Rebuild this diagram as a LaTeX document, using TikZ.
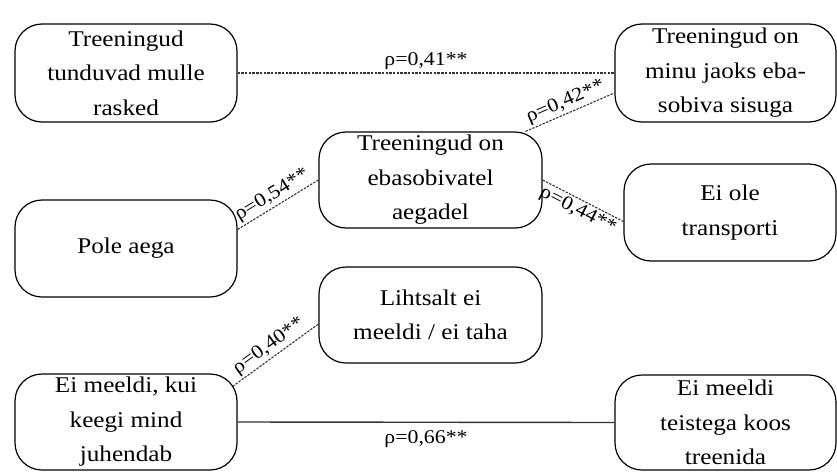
\documentclass[tikz,border=0pt]{standalone}
\usepackage{fontspec}
\setmainfont[FakeStretch=1.12]{Liberation Serif}
\usetikzlibrary{calc}
\begin{document}
\begin{tikzpicture}[x=1pt,y=-1pt,
  box/.style={draw=black, line width=1.2pt, rounded corners=27pt, inner sep=0pt,
    align=center, font=\fontsize{22.5}{34.5}\selectfont},
  conn/.style={draw=black!80, line width=1.1pt},
  dconn/.style={conn, dash pattern=on 2.4pt off 1.3pt},
  lab/.style={font=\fontsize{19.5}{22}\selectfont, inner sep=2pt}
]
\useasboundingbox (0,0) rectangle (837,471);
\node[box, minimum width=222pt, minimum height=98pt] (b1) at (126,73) {Treeningud\\tunduvad mulle\\rasked};
\node[box, minimum width=221pt, minimum height=98pt] (b2) at (725.5,73) {Treeningud on\\minu jaoks eba-\\sobiva sisuga};
\node[box, minimum width=223pt, minimum height=96pt] (c) at (430.5,180) {Treeningud on\\ebasobivatel\\aegadel};
\node[box, minimum width=222pt, minimum height=97pt] (p) at (126,248.5) {Pole aega};
\node[box, minimum width=212pt, minimum height=97pt] (t) at (730,212.5) {Ei ole\\transporti};
\node[box, minimum width=223pt, minimum height=96pt] (l) at (430.5,315) {Lihtsalt ei\\meeldi / ei taha};
\node[box, minimum width=222pt, minimum height=96pt] (e) at (126,422) {Ei meeldi, kui\\keegi mind\\juhendab};
\node[box, minimum width=221pt, minimum height=95pt] (f) at (725.5,422.5) {Ei meeldi\\teistega koos\\treenida};

\coordinate (c1) at ([xshift=-17pt]c.north east);
\coordinate (b2a) at ([yshift=-20pt]b2.west);
\coordinate (pa) at ([yshift=19pt]p.east);
\coordinate (ta) at ([yshift=-9pt]t.west);
\coordinate (ea) at ([xshift=-5pt,yshift=-13pt]e.north east);
\coordinate (la) at ([yshift=-9pt]l.west);

\draw[dconn] (b1.east) -- node[lab, above=1pt] {ρ=0,41**} (b2.west);
\draw[dconn] (c1) -- node[lab, sloped, above] {ρ=0,42**} (b2a);
\draw[dconn] (pa) -- node[lab, sloped, above] {ρ=0,54**} (c.west);
\draw[dconn] (c.east) -- node[lab, sloped, below] {ρ=0,44**} (ta);
\draw[dconn] (ea) -- node[lab, sloped, above] {ρ=0,40**} (la);
\draw[conn, line width=1.4pt] (e.east) -- node[lab, below=6pt] {ρ=0,66**} (f.west);
\end{tikzpicture}
\end{document}
